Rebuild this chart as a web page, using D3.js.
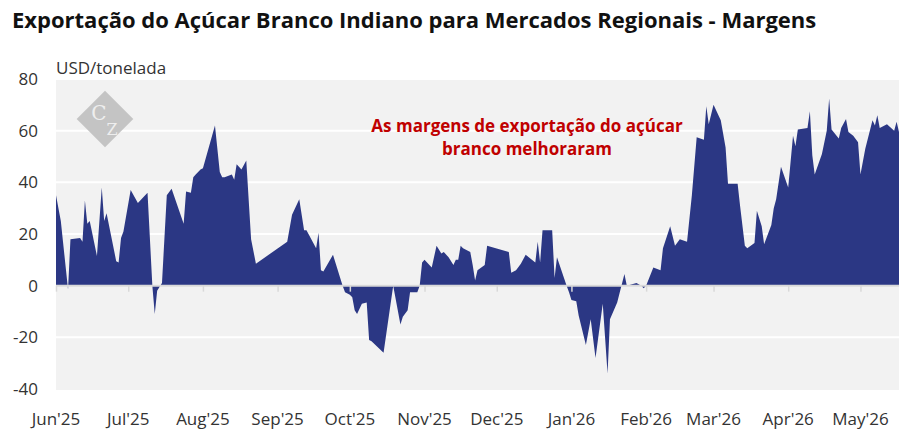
<!DOCTYPE html>
<html>
<head>
<meta charset="utf-8">
<script src="https://cdn.jsdelivr.net/npm/d3@7"></script>
<style>
  body { margin: 0; background: #fff; font-family: "Open Sans", sans-serif; }
</style>
</head>
<body>
<svg id="chart" width="913" height="447"></svg>
<script>
// data
var dates = ["2025-06-01","2025-06-03","2025-06-06","2025-06-07","2025-06-11","2025-06-12","2025-06-13","2025-06-14","2025-06-15","2025-06-18",
  "2025-06-20","2025-06-21","2025-06-22","2025-06-26","2025-06-27","2025-06-28","2025-06-29","2025-07-02","2025-07-05","2025-07-09",
  "2025-07-11","2025-07-12","2025-07-13","2025-07-15","2025-07-17","2025-07-19","2025-07-24","2025-07-25","2025-07-27","2025-07-28",
  "2025-07-29","2025-07-31","2025-08-01","2025-08-06","2025-08-08","2025-08-09","2025-08-10","2025-08-13","2025-08-14","2025-08-15",
  "2025-08-17","2025-08-19","2025-08-21","2025-08-23","2025-09-05","2025-09-07","2025-09-10","2025-09-12","2025-09-13","2025-09-17",
  "2025-09-18","2025-09-19","2025-09-20","2025-09-24","2025-09-28","2025-09-29","2025-10-01","2025-10-02","2025-10-03","2025-10-04",
  "2025-10-06","2025-10-08","2025-10-09","2025-10-10","2025-10-15","2025-10-19","2025-10-22","2025-10-23","2025-10-25","2025-10-26",
  "2025-10-29","2025-10-30","2025-10-31","2025-11-01","2025-11-04","2025-11-06","2025-11-08","2025-11-09","2025-11-11","2025-11-13",
  "2025-11-14","2025-11-15","2025-11-16","2025-11-17","2025-11-20","2025-11-21","2025-11-22","2025-11-23","2025-11-26","2025-11-27",
  "2025-12-06","2025-12-07","2025-12-09","2025-12-11","2025-12-13","2025-12-17","2025-12-18","2025-12-19","2025-12-20","2025-12-24",
  "2025-12-25","2025-12-26","2025-12-30","2025-12-31","2026-01-01","2026-01-03","2026-01-04","2026-01-07","2026-01-09","2026-01-11",
  "2026-01-14","2026-01-16","2026-01-17","2026-01-20","2026-01-23","2026-01-24","2026-01-28","2026-01-30","2026-01-31","2026-02-01",
  "2026-02-04","2026-02-07","2026-02-08","2026-02-11","2026-02-13","2026-02-15","2026-02-18","2026-02-20","2026-02-22","2026-02-25",
  "2026-02-26","2026-02-27","2026-03-01","2026-03-04","2026-03-06","2026-03-07","2026-03-11","2026-03-12","2026-03-14","2026-03-15",
  "2026-03-18","2026-03-19","2026-03-21","2026-03-22","2026-03-25","2026-03-26","2026-03-27","2026-03-29","2026-04-01","2026-04-03",
  "2026-04-04","2026-04-05","2026-04-09","2026-04-10","2026-04-11","2026-04-12","2026-04-15","2026-04-17","2026-04-18","2026-04-19",
  "2026-04-22","2026-04-23","2026-04-25","2026-04-26","2026-04-28","2026-04-30","2026-05-01","2026-05-03","2026-05-06","2026-05-07",
  "2026-05-08","2026-05-09","2026-05-12","2026-05-15","2026-05-16","2026-05-17"];
var margins = [35,25,-1.5,18,18.5,17,33,24,25,11.5,
  38,25,28,9.5,9,18.5,21,37,32,36,
  0,-11,-2,1,35,37.5,24,36.5,36,42,
  43,45,45.5,62,44,42,42,43,41,47,
  45,48.5,18,8.5,17,27.5,33.5,21.5,21.5,14.5,
  20.5,6,5.5,12,0,-2.5,-3.5,-4.5,-9.5,-11,
  -7,-6.5,-21,-21.5,-26,0,-15,-12,-9.5,-2.5,
  -2.5,0,9,10,7,15.5,12.5,13,11,8,
  10,10,15.5,14.5,13,8,2,6,8,15.5,
  13,5,6,8.5,12,9,17,9,21.5,21.5,
  3,11,0,-2.5,-5.5,-6,-11.5,-23,-13,-28,
  -7,-34,-13,-6.5,4.5,0,1,0,-1,0,
  7,6,14.5,23,15.5,18,17,35,57.5,56.5,
  69.5,62.5,70,64,53.5,39.5,39.5,31,15.5,14.5,
  16.5,29,23,16,23.5,30,33.5,46,38,58,
  54,60.5,61,67.5,50.5,43,51,60,72.5,60.5,
  57,61,64.5,59.5,58,55.5,43,53,64,62,
  66,61,62.5,60,63.5,59.5];
var yTicks = [-40,-20,0,20,40,60,80];
var monthTicks = ["2025-06-01","2025-07-01","2025-08-01","2025-09-01","2025-10-01","2025-11-01",
  "2025-12-01","2026-01-01","2026-02-01","2026-03-01","2026-04-01","2026-05-01"];
var monthLabels = ["Jun'25","Jul'25","Aug'25","Sep'25","Oct'25","Nov'25","Dec'25","Jan'26","Feb'26","Mar'26","Apr'26","May'26"];

var parse = d3.timeParse("%Y-%m-%d");
var data = dates.map(function(d, i){ return {date: parse(d), value: margins[i]}; });

var plotL = 56, plotR = 899, plotT = 80, plotB = 390;
var svg = d3.select("#chart");

var x = d3.scaleTime()
    .domain([parse("2025-06-01"), parse("2026-05-17")])
    .range([plotL, plotR]);
var y = d3.scaleLinear().domain([-40, 80]).range([389, 79]);

svg.append("text")
    .attr("x", 12).attr("y", 28)
    .attr("font-size", 22).attr("font-weight", "bold").attr("fill", "#111")
    .text("Exportação do Açúcar Branco Indiano para Mercados Regionais - Margens");

svg.append("rect")
    .attr("x", plotL).attr("y", plotT)
    .attr("width", plotR - plotL).attr("height", plotB - plotT)
    .attr("fill", "#f2f2f2");

// horizontal gridlines
svg.selectAll(".grid").data(yTicks.filter(function(t){ return t > -40 && t < 80; }))
  .enter().append("line")
    .attr("x1", plotL).attr("x2", plotR)
    .attr("y1", function(d){ return y(d); }).attr("y2", function(d){ return y(d); })
    .attr("stroke", "#fff").attr("stroke-width", 2);

// watermark
var logo = svg.append("g").attr("transform", "translate(105,119)");
logo.append("rect").attr("x", -20).attr("y", -20).attr("width", 40).attr("height", 40)
    .attr("transform", "rotate(45)").attr("fill", "#c4c4c4");
logo.append("text").attr("x", -6).attr("y", 1).attr("text-anchor", "middle")
    .attr("font-family", "DejaVu Serif, serif").attr("font-size", 20).attr("fill", "#eee").text("C");
logo.append("text").attr("x", 7).attr("y", 16).attr("text-anchor", "middle")
    .attr("font-family", "DejaVu Serif, serif").attr("font-size", 16).attr("fill", "#eee").text("Z");

var area = d3.area()
    .x(function(d){ return x(d.date); })
    .y0(y(0))
    .y1(function(d){ return y(d.value); });

svg.append("path").datum(data)
    .attr("d", area)
    .attr("fill", "#2b3784");

// zero line and month ticks
svg.append("line")
    .attr("x1", plotL).attr("x2", plotR)
    .attr("y1", y(0)).attr("y2", y(0))
    .attr("stroke", "#d9d9d9").attr("stroke-width", 2);

var xAxis = d3.axisBottom(x)
    .tickValues(monthTicks.map(parse))
    .tickSize(6)
    .tickFormat("");
svg.append("g")
    .attr("transform", "translate(0," + y(0) + ")")
    .call(xAxis)
    .call(function(g){ g.select(".domain").remove(); g.selectAll("line").attr("stroke", "#d9d9d9").attr("stroke-width", 1.5); });

svg.selectAll(".mlab").data(monthTicks)
  .enter().append("text")
    .attr("x", function(d){ return x(parse(d)); })
    .attr("y", 425)
    .attr("text-anchor", "middle")
    .attr("font-size", 17).attr("fill", "#333")
    .text(function(d, i){ return monthLabels[i]; });

var yAxis = d3.axisLeft(y).tickValues(yTicks).tickSize(0).tickPadding(0)
    .tickFormat(function(d){ return String(d); });
svg.append("g")
    .attr("transform", "translate(38,0)")
    .call(yAxis)
    .call(function(g){
        g.select(".domain").remove();
        g.selectAll("text").attr("font-size", 17).attr("fill", "#333")
            .attr("font-family", "Open Sans, sans-serif");
    });

svg.append("text")
    .attr("x", 56).attr("y", 74)
    .attr("font-size", 17).attr("fill", "#333")
    .text("USD/tonelada");

var note = svg.append("text")
    .attr("text-anchor", "middle")
    .attr("font-size", 17).attr("font-weight", "bold").attr("fill", "#c00000");
note.append("tspan").attr("x", 527).attr("y", 132).text("As margens de exportação do açúcar");
note.append("tspan").attr("x", 527).attr("y", 155).text("branco melhoraram");
</script>
</body>
</html>
